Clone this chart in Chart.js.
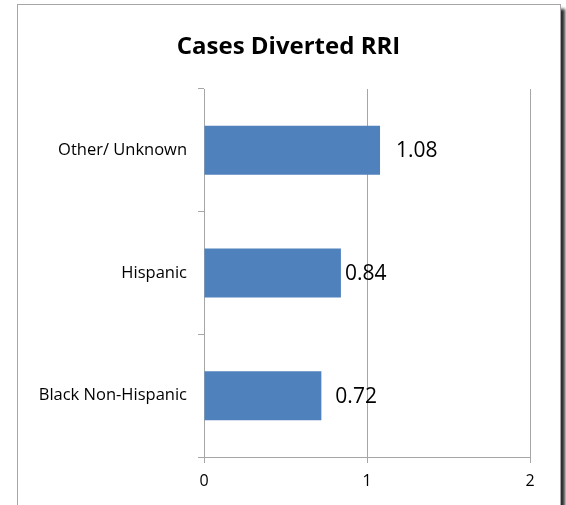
<!DOCTYPE html>
<html>
<head>
<meta charset="utf-8">
<script src="https://cdn.jsdelivr.net/npm/chart.js@4.4.0/dist/chart.umd.min.js"></script>
<style>
  html, body { margin: 0; padding: 0; background: #fff; overflow: hidden; }
  #frame {
    position: absolute; left: 17px; top: 4px; width: 544px; height: 520px;
    box-sizing: border-box; border: 1px solid #a6a6a6;
    box-shadow: 4px 5px 3px #2e2e2e;
    background: #fff;
  }
  #wrap { position: absolute; left: 17px; top: 0; width: 543px; height: 505px; }
</style>
</head>
<body>
<div id="frame"></div>
<div id="wrap"><canvas id="chart"></canvas></div>
<script>
const categories = ["Other/ Unknown", "Hispanic", "Black Non-Hispanic"];
const rriValues = [1.08, 0.84, 0.72];
const xTicks = [0, 1, 2];

// décalage des étiquettes de valeur (px) par rapport au bout de la barre
const labelShift = [16, 4, 14];

const fontFamily = "'Open Sans', Lato, sans-serif";
const gridColor = "#a6a6a6";

const valueLabels = {
  id: "valueLabels",
  afterDatasetsDraw(chart) {
    const ctx = chart.ctx;
    const meta = chart.getDatasetMeta(0);
    ctx.save();
    ctx.font = "21px " + fontFamily;
    ctx.fillStyle = "#000";
    ctx.textAlign = "left";
    ctx.textBaseline = "middle";
    meta.data.forEach(function (bar, i) {
      ctx.fillText(rriValues[i].toFixed(2), bar.x + labelShift[i], bar.y + 1);
    });
    ctx.restore();
  }
};

// titre centré sur le cadre et non sur la zone de tracé
const frameTitle = {
  id: "frameTitle",
  afterDraw(chart) {
    const ctx = chart.ctx;
    ctx.save();
    ctx.font = "bold 24px " + fontFamily;
    ctx.fillStyle = "#000";
    ctx.textAlign = "center";
    ctx.textBaseline = "middle";
    ctx.fillText("Cases Diverted RRI", chart.width / 2, 47);
    ctx.restore();
  }
};

const ctx = document.getElementById("chart").getContext("2d");
new Chart(ctx, {
  type: "bar",
  data: {
    labels: categories,
    datasets: [{
      data: rriValues,
      backgroundColor: "#4f81bd",
      borderWidth: 0,
      categoryPercentage: 0.8,
      barPercentage: 0.5
    }]
  },
  options: {
    indexAxis: "y",
    responsive: true,
    maintainAspectRatio: false,
    animation: false,
    layout: { padding: { left: 0, right: 30, top: 89, bottom: 0 } },
    plugins: {
      legend: { display: false },
      tooltip: { enabled: false },
      title: { display: false }
    },
    scales: {
      x: {
        min: 0,
        max: 2,
        afterFit(scale) { scale.height = 48; },
        afterBuildTicks(scale) { scale.ticks = xTicks.map(v => ({ value: v })); },
        border: { display: true, color: gridColor, width: 1 },
        grid: { color: gridColor, lineWidth: 1, tickLength: 6, drawTicks: true },
        ticks: { color: "#000", padding: 9, font: { family: fontFamily, size: 16 } }
      },
      y: {
        afterFit(scale) { scale.width = 187; },
        border: { display: true, color: gridColor, width: 1 },
        grid: { drawOnChartArea: false, drawTicks: true, tickLength: 6, color: gridColor, offset: true },
        ticks: { color: "#000", padding: 11, font: { family: fontFamily, size: 16.5 } }
      }
    }
  },
  plugins: [valueLabels, frameTitle]
});
</script>
</body>
</html>
